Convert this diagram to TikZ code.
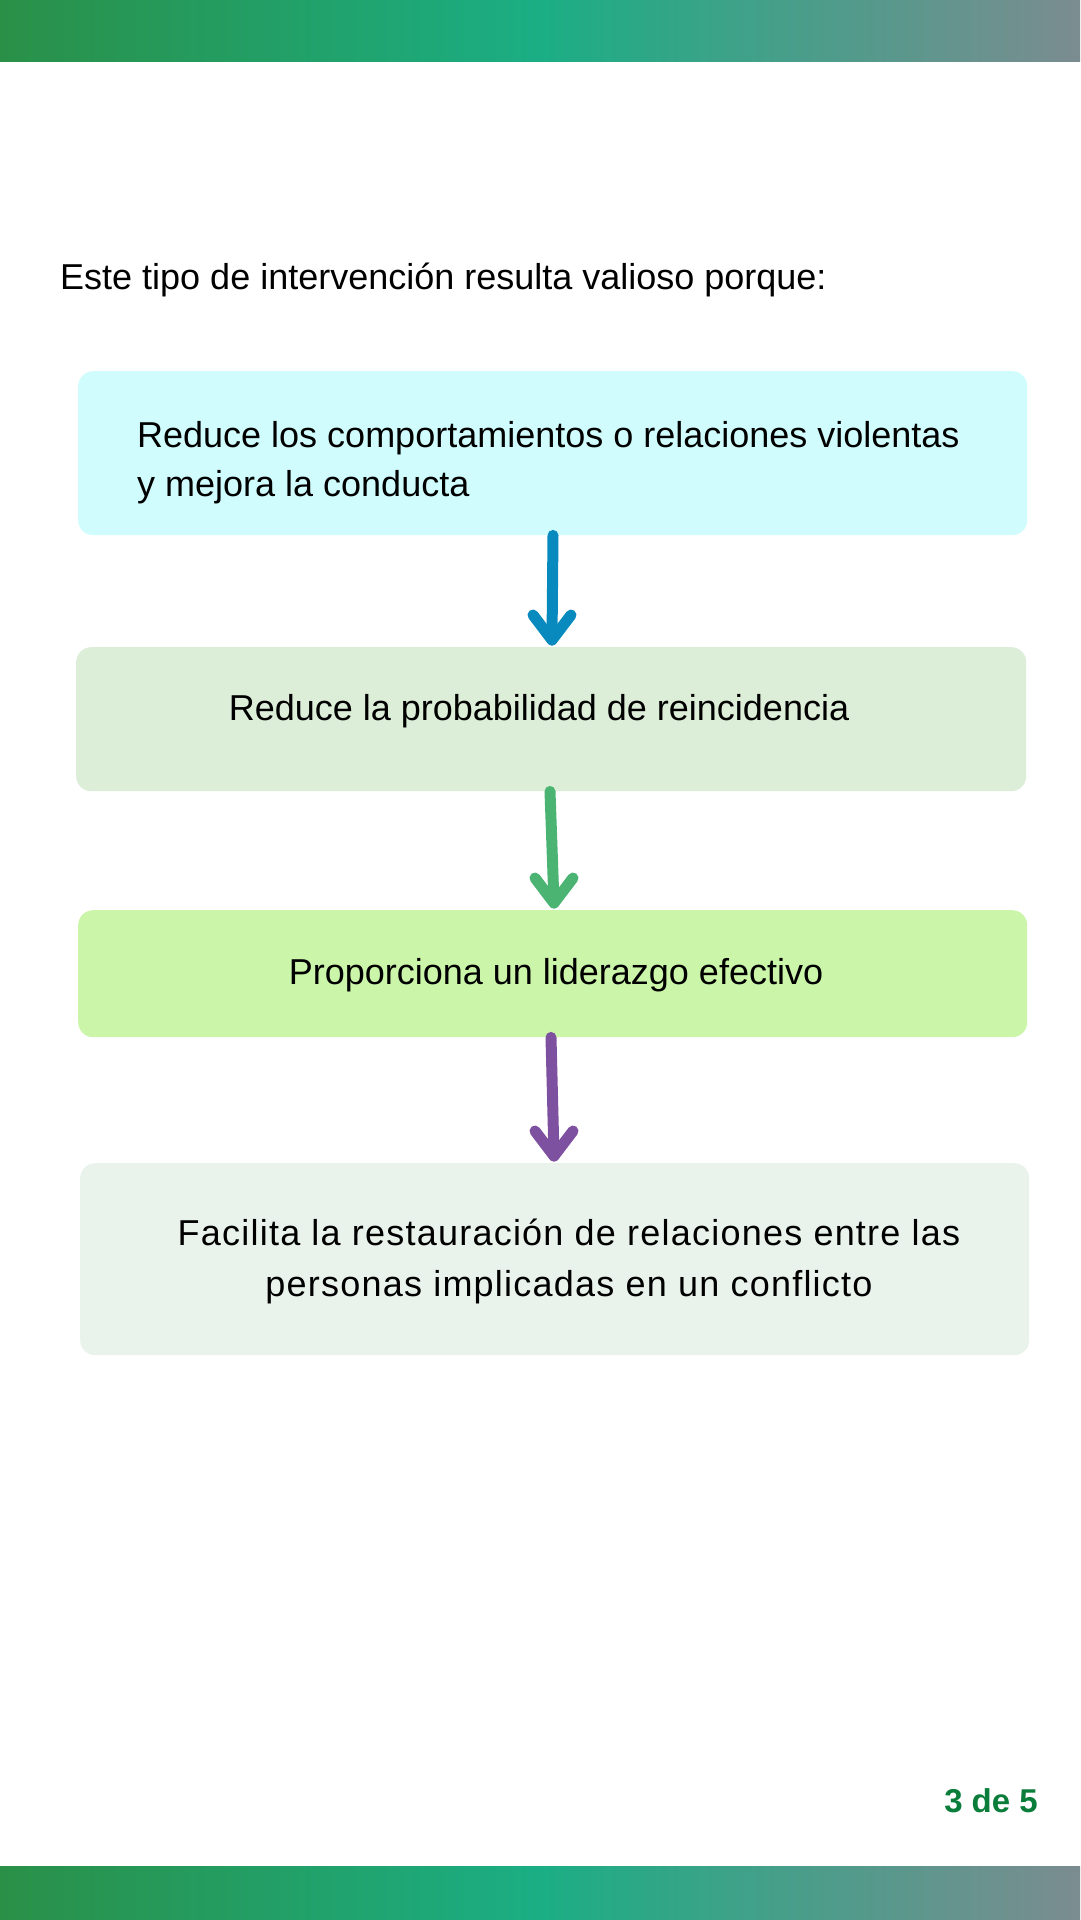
\documentclass[tikz,border=0pt]{standalone}
\usepackage{fontspec}
\setmainfont{Liberation Sans}
\newfontfamily\spacedfont[LetterSpace=3.4]{Liberation Sans}
\usetikzlibrary{calc}
\definecolor{cA}{RGB}{208,252,253}
\definecolor{cB}{RGB}{220,237,216}
\definecolor{cC}{RGB}{203,245,169}
\definecolor{cD}{RGB}{233,243,236}
\definecolor{aA}{RGB}{8,138,190}
\definecolor{aB}{RGB}{76,180,115}
\definecolor{aC}{RGB}{126,80,160}
\definecolor{gL}{RGB}{42,144,72}
\definecolor{gM}{RGB}{27,174,132}
\definecolor{gR}{RGB}{123,140,144}
\definecolor{pg}{RGB}{10,125,58}
\tikzset{
  boxnode/.style={rounded corners=15pt, inner sep=0pt, anchor=north west},
  txt/.style={inner sep=0pt, font=\fontsize{36}{49}\selectfont},
  stxt/.style={inner sep=0pt, font=\spacedfont\fontsize{36}{49}\selectfont},
  conn/.style={line width=11pt, line cap=round, line join=round},
}
\begin{document}
\begin{tikzpicture}[x=1pt,y=-1pt]
\useasboundingbox (0,0) rectangle (1080,1920);
\fill[white] (0,0) rectangle (1080,1920);
% bars
\shade[left color=gL, right color=gR, middle color=gM] (0,0) rectangle (1080,61);
\shade[left color=gL, right color=gR, middle color=gM] (0,1866) rectangle (1080,1920);
% header
\node[txt, anchor=base west] (hdr) at (60,289) {Este tipo de intervención resulta valioso porque:};
% boxes
\node[boxnode, fill=cA, minimum width=949pt, minimum height=164pt] (b1) at (78,371) {};
\node[boxnode, fill=cB, minimum width=950pt, minimum height=144pt] (b2) at (76,647) {};
\node[boxnode, fill=cC, minimum width=949pt, minimum height=127pt] (b3) at (78,910) {};
\node[boxnode, fill=cD, minimum width=949pt, minimum height=192pt] (b4) at (80,1163) {};
% texts
\node[txt, anchor=base west] (t1a) at (137,447) {Reduce los comportamientos o relaciones violentas};
\node[txt, anchor=base west] (t1b) at (137,496) {y mejora la conducta};
\node[txt, anchor=base] (t2) at (539,720) {Reduce la probabilidad de reincidencia};
\node[txt, anchor=base] (t3) at (556,984) {Proporciona un liderazgo efectivo};
\node[stxt, anchor=base] (t4a) at (569,1245) {Facilita la restauración de relaciones entre las};
\node[stxt, anchor=base] (t4b) at (569,1296) {personas implicadas en un conflicto};
% arrows
\coordinate (e1) at ($(b2.north west)+(476,-7)$);
\coordinate (e2) at ($(b3.north west)+(476,-7)$);
\coordinate (e3) at ($(b4.north west)+(474,-7)$);
\draw[conn, aA] ($(b1.south west)+(475,0)$) -- (e1);
\draw[conn, aA] ($(e1)+(-19,-25)$) -- (e1) -- ($(e1)+(19,-25)$);
\draw[conn, aB] ($(b2.south west)+(474,0)$) -- (e2);
\draw[conn, aB] ($(e2)+(-19,-25)$) -- (e2) -- ($(e2)+(19,-25)$);
\draw[conn, aC] ($(b3.south west)+(473,0)$) -- (e3);
\draw[conn, aC] ($(e3)+(-19,-25)$) -- (e3) -- ($(e3)+(19,-25)$);
% page number
\node[inner sep=0pt, anchor=base east, text=pg, font=\fontsize{33}{40}\selectfont\bfseries] (pn) at (1038,1812) {3 de 5};
\end{tikzpicture}
\end{document}
